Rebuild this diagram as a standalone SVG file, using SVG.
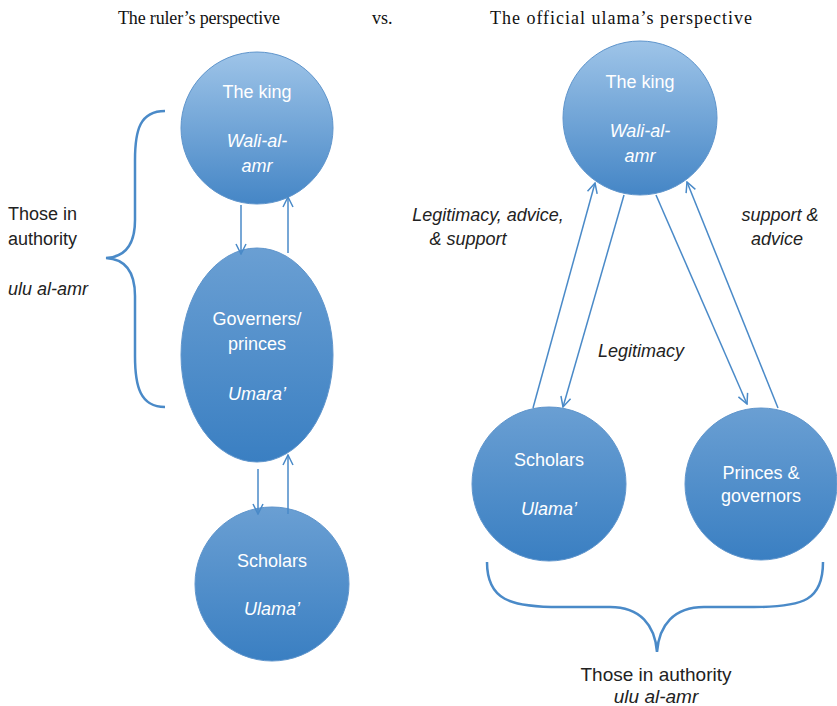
<svg xmlns="http://www.w3.org/2000/svg" width="837" height="706" viewBox="0 0 837 706">
<defs>
<linearGradient id="gKing" x1="0" y1="0" x2="0" y2="1">
<stop offset="0" stop-color="#9ec4e8"/>
<stop offset="1" stop-color="#4586c6"/>
</linearGradient>
<linearGradient id="gNode" x1="0" y1="0" x2="0" y2="1">
<stop offset="0" stop-color="#6a9fd3"/>
<stop offset="1" stop-color="#3a7fc2"/>
</linearGradient>
<marker id="arr" viewBox="0 0 12 12" refX="11" refY="6" markerWidth="12" markerHeight="12" markerUnits="userSpaceOnUse" orient="auto">
<path d="M1,1 L11,6 L1,11" fill="none" stroke="#4a8ac8" stroke-width="1.5"/>
</marker>
</defs>
<style>
.king{fill:url(#gKing);stroke:#5f95cc;stroke-width:1}
.node{fill:url(#gNode);stroke:#5f95cc;stroke-width:1}
.nt{font-family:"Liberation Sans",Arial,sans-serif;font-size:18px;fill:#ffffff;text-anchor:middle}
.it{font-style:italic}
.lbl{font-family:"Liberation Sans",Arial,sans-serif;font-size:18px;fill:#222222}
.big{font-size:19px}
.hd{font-family:"Liberation Serif","Times New Roman",serif;font-size:18px;fill:#111111}
.conn{stroke:#4a8ac8;stroke-width:1.5;fill:none}
.brace{stroke:#4a8ac8;stroke-width:2.5;fill:none}
</style>
<rect width="837" height="706" fill="#ffffff"/>

<g id="headers">
<text class="hd" x="118" y="24" textLength="162" lengthAdjust="spacing">The ruler’s perspective</text>
<text class="hd" x="372" y="24">vs.</text>
<text class="hd" x="490" y="24" textLength="262" lengthAdjust="spacing">The official ulama’s perspective</text>
</g>

<g id="left-king">
<circle class="king" cx="257" cy="128" r="76"/>
<text class="nt" x="257" y="98">The king</text>
<text class="nt it" x="257" y="147">Wali-al-</text>
<text class="nt it" x="257" y="172">amr</text>
</g>

<g id="left-governors">
<ellipse class="node" cx="257" cy="355" rx="76" ry="107"/>
<text class="nt" x="257" y="325">Governers/</text>
<text class="nt" x="257" y="350">princes</text>
<text class="nt it" x="257" y="400">Umara’</text>
</g>

<g id="left-scholars">
<circle class="node" cx="272" cy="584" r="77"/>
<text class="nt" x="272" y="567">Scholars</text>
<text class="nt it" x="272" y="615">Ulama’</text>
</g>

<g id="left-brace">
<path class="brace" d="M165,111 C140,111 135,130 135,160 L135,220 C135,245 125,257 106,258 C125,259 135,271 135,296 L135,356 C135,386 140,407 165,407"/>
<text class="lbl" x="8" y="220">Those in</text>
<text class="lbl" x="8" y="245">authority</text>
<text class="lbl it" x="8" y="295">ulu al-amr</text>
</g>

<g id="right-king">
<circle class="king" cx="640" cy="118" r="77"/>
<text class="nt" x="640" y="88">The king</text>
<text class="nt it" x="640" y="137">Wali-al-</text>
<text class="nt it" x="640" y="162">amr</text>
</g>

<g id="right-scholars">
<circle class="node" cx="549" cy="484" r="77"/>
<text class="nt" x="549" y="466">Scholars</text>
<text class="nt it" x="549" y="515">Ulama’</text>
</g>

<g id="right-princes">
<circle class="node" cx="761" cy="484" r="76"/>
<text class="nt" x="761" y="479">Princes &amp;</text>
<text class="nt" x="761" y="502">governors</text>
</g>

<g id="right-brace">
<path class="brace" d="M487,562 C487,600 510,607 560,607 L610,607 C640,607 655,625 657,652 C659,625 674,607 704,607 L754,607 C804,607 823,600 823,562"/>
<text class="lbl big" x="656" y="681" text-anchor="middle">Those in authority</text>
<text class="lbl big it" x="656" y="703" text-anchor="middle">ulu al-amr</text>
</g>

<g id="connectors">
<line class="conn" x1="241" y1="205" x2="241" y2="254" marker-end="url(#arr)"/>
<line class="conn" x1="288" y1="253" x2="288" y2="197" marker-end="url(#arr)"/>
<line class="conn" x1="258" y1="469" x2="258" y2="514" marker-end="url(#arr)"/>
<line class="conn" x1="288" y1="514" x2="288" y2="455" marker-end="url(#arr)"/>
<line class="conn" x1="533" y1="408" x2="595" y2="183" marker-end="url(#arr)"/>
<line class="conn" x1="624" y1="195" x2="563" y2="407" marker-end="url(#arr)"/>
<line class="conn" x1="656" y1="195" x2="747" y2="404" marker-end="url(#arr)"/>
<line class="conn" x1="778" y1="408" x2="687" y2="182" marker-end="url(#arr)"/>
</g>

<g id="labels">
<text class="lbl it" x="488" y="221" text-anchor="middle">Legitimacy, advice,</text>
<text class="lbl it" x="468" y="245" text-anchor="middle">&amp; support</text>
<text class="lbl it" x="780" y="221" text-anchor="middle">support &amp;</text>
<text class="lbl it" x="777" y="245" text-anchor="middle">advice</text>
<text class="lbl it" x="641" y="357" text-anchor="middle">Legitimacy</text>
</g>
</svg>
